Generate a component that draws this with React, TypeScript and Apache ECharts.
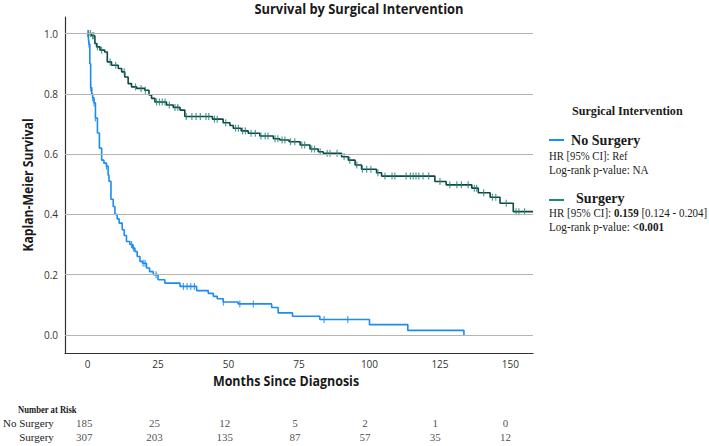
import React, { useEffect, useRef } from "react";
import * as echarts from "echarts";

// ---- Data ----
const noSurgeryCurve: [number, number][] = [
  [0, 1.0], [0.3, 0.985], [0.5, 0.965], [0.8, 0.9], [1.1, 0.82], [1.5, 0.8], [1.8, 0.787],
  [2.3, 0.77], [2.8, 0.72], [3.5, 0.67], [4.2, 0.62], [5, 0.58], [5.8, 0.57], [6.7, 0.56],
  [7.3, 0.53], [7.6, 0.51], [8.3, 0.45], [9.1, 0.426], [9.7, 0.4], [10.5, 0.385],
  [11.2, 0.371], [12.3, 0.349], [13, 0.33], [13.8, 0.31], [15, 0.3], [16, 0.288],
  [16.8, 0.277], [17.6, 0.26], [18.6, 0.244], [19.5, 0.238], [20.9, 0.222], [22, 0.21],
  [23.3, 0.2], [25, 0.183], [27.4, 0.172], [32.8, 0.161], [38.7, 0.147], [42.8, 0.138],
  [44.6, 0.128], [46, 0.12], [48.1, 0.109], [53.4, 0.103], [65.3, 0.091], [67.6, 0.073],
  [72.7, 0.062], [82.4, 0.051], [100, 0.034], [113.6, 0.015], [133.5, 0.0],
];
const noSurgeryCensor: number[] = [
  0.1, 0.5, 1.1, 1.8, 2.3, 2.8, 6.7, 15.6, 16.3, 19.7, 20.4, 24.3, 34, 35.3, 36.6, 37.9,
  48.2, 54, 58.8, 83.9, 92.3,
];

const surgeryCurve: [number, number][] = [
  [0, 1.0], [1.4, 0.993], [2.6, 0.967], [3.2, 0.956], [4.4, 0.945], [6.1, 0.939], [7, 0.906],
  [8.5, 0.895], [10.9, 0.884], [12.1, 0.873], [13.2, 0.856], [14.4, 0.834], [15.6, 0.823],
  [17.4, 0.818], [20.3, 0.812], [21.8, 0.796], [22.7, 0.785], [23.9, 0.773], [28, 0.763],
  [30.4, 0.755], [32.8, 0.746], [34.5, 0.725], [44.3, 0.716], [48.1, 0.704], [50.5, 0.695],
  [51.7, 0.686], [54.5, 0.677], [57, 0.669], [61.1, 0.66], [65.9, 0.651], [68.2, 0.647],
  [71.5, 0.641], [75.4, 0.63], [78.9, 0.617], [81.8, 0.608], [83.6, 0.603], [90.1, 0.591],
  [92.5, 0.58], [94.9, 0.564], [97.2, 0.55], [102.5, 0.538], [104.3, 0.527], [123.2, 0.509],
  [127.2, 0.498], [136.3, 0.487], [138.6, 0.472], [142.8, 0.457], [146.3, 0.437],
  [151, 0.409], [158, 0.409],
];
const surgeryCensor: number[] = [
  0.3, 1, 1.8, 2.2, 3.5, 5, 8, 10, 13, 17, 19, 20.5, 24.5, 25.5, 26.5, 27.5, 29, 31, 32,
  35, 37, 38.5, 40, 42, 43, 45, 46, 49, 52.5, 53.5, 55, 56, 58, 59.5, 61.5, 63, 64, 66.5,
  67.5, 69, 70, 72, 73.5, 76, 77, 79.5, 80.5, 82.5, 85, 86, 88.5, 91, 93, 95.5, 97.5,
  99, 100.5, 103, 105.5, 108, 109, 113, 114.5, 115.5, 116.5, 117.5, 119, 121, 125, 128.5,
  131, 132.6, 135, 137.2, 138, 140.5, 143.6, 144.8, 148.5, 152, 153, 155,
];

const xTicks = [0, 25, 50, 75, 100, 125, 150];
const yTicks = [0, 0.2, 0.4, 0.6, 0.8, 1.0];
const riskGroups = ["Surgery", "No Surgery"];
const riskTimes = [0, 25, 50, 75, 100, 125, 150];
const riskNoSurgery = [185, 25, 12, 5, 2, 1, 0];
const riskSurgery = [307, 203, 135, 87, 57, 35, 12];

const BLUE = "#1a8cf5";
const DARK = "#0c4a43";
const TEAL = "#23857a";

function survAt(curve: [number, number][], t: number): number {
  let s = curve[0][1];
  for (const [m, v] of curve) {
    if (m <= t) s = v;
    else break;
  }
  return s;
}

const SANS = "'Open Sans', 'DejaVu Sans', sans-serif";
const SERIF = "'Liberation Serif', 'DejaVu Serif', serif";

function txt(
  text: string,
  x: number,
  y: number,
  opts: { size: number; bold?: boolean; family?: string; align?: string; scaleX?: number; rotation?: number; fill?: string; rich?: any }
) {
  return {
    type: "text",
    x,
    y,
    rotation: opts.rotation || 0,
    scaleX: opts.scaleX ?? 1,
    silent: true,
    style: {
      text,
      fontSize: opts.size,
      fontWeight: opts.bold ? "bold" : "normal",
      fontFamily: opts.family || SERIF,
      fill: opts.fill || "#1a1a1a",
      align: opts.align || "left",
      textAlign: opts.align || "left",
      verticalAlign: "middle",
      textVerticalAlign: "middle",
      rich: opts.rich,
    },
  };
}

export default function App() {
  const ref = useRef<HTMLDivElement>(null);
  useEffect(() => {
    if (!ref.current) return;
    const chart = echarts.init(ref.current, null, { renderer: "svg" });
    const richBase = { fontFamily: SERIF, fontSize: 11.5, fill: "#1a1a1a" };
    const option: any = {
      animation: false,
      backgroundColor: "#ffffff",
      grid: [
        { left: 65, right: 176, top: 17, bottom: 93, containLabel: false },
        { left: 65, right: 176, top: 416, height: 28, containLabel: false },
      ],
      xAxis: [
        {
          type: "value",
          gridIndex: 0,
          min: -8,
          max: 158,
          axisLine: { show: true, onZero: false, lineStyle: { color: "#333", width: 1.2 } },
          axisTick: { show: false, customValues: xTicks },
          splitLine: { show: false },
          axisLabel: { customValues: xTicks, fontFamily: SANS, fontSize: 10, color: "#333", margin: 6 },
        },
        {
          type: "value",
          gridIndex: 1,
          min: -8,
          max: 158,
          show: false,
        },
      ],
      yAxis: [
        {
          type: "value",
          gridIndex: 0,
          min: -0.06,
          max: 1.055,
          axisLine: { show: true, onZero: false, lineStyle: { color: "#333", width: 1.2 } },
          axisTick: { show: false, customValues: yTicks },
          splitLine: { show: false },
          axisLabel: {
            customValues: yTicks,
            fontFamily: SANS,
            fontSize: 10,
            color: "#333",
            margin: 7,
            formatter: (v: number) => v.toFixed(1),
          },
        },
        {
          type: "category",
          gridIndex: 1,
          data: riskGroups,
          axisLine: { show: false },
          axisTick: { show: false },
          splitLine: { show: false },
          axisLabel: { interval: 0, fontFamily: SERIF, fontSize: 11, color: "#1a1a1a", margin: 13 },
        },
      ],
      series: [
        {
          type: "line",
          name: "grid",
          data: [[0, 0]],
          showSymbol: false,
          lineStyle: { opacity: 0 },
          silent: true,
          z: 1,
          markLine: {
            silent: true,
            symbol: "none",
            label: { show: false },
            lineStyle: { color: "#b5b5b5", width: 1, type: "solid" },
            data: yTicks.map((v) => ({ yAxis: v })),
          },
        },
        {
          type: "line",
          name: "No Surgery",
          step: "end",
          data: noSurgeryCurve,
          showSymbol: false,
          lineStyle: { color: BLUE, width: 1.6 },
          z: 3,
        },
        {
          type: "line",
          name: "Surgery",
          step: "end",
          data: surgeryCurve,
          showSymbol: false,
          lineStyle: { color: DARK, width: 1.6 },
          z: 3,
        },
        {
          type: "scatter",
          data: noSurgeryCensor.map((t) => [t, survAt(noSurgeryCurve, t)]),
          symbol: "rect",
          symbolSize: [1.2, 7],
          itemStyle: { color: BLUE },
          z: 4,
        },
        {
          type: "scatter",
          data: surgeryCensor.map((t) => [t, survAt(surgeryCurve, t)]),
          symbol: "rect",
          symbolSize: [1.2, 7],
          itemStyle: { color: TEAL },
          z: 4,
        },
        {
          type: "scatter",
          xAxisIndex: 1,
          yAxisIndex: 1,
          symbolSize: 1,
          itemStyle: { color: "rgba(0,0,0,0)" },
          data: [
            ...riskTimes.map((t, i) => [t, 1, riskNoSurgery[i]]),
            ...riskTimes.map((t, i) => [t, 0, riskSurgery[i]]),
          ],
          label: {
            show: true,
            position: "inside",
            offset: [-5, 0],
            fontFamily: SERIF,
            fontSize: 11,
            color: "#1a1a1a",
            formatter: (p: any) => String(p.value[2]),
          },
          z: 5,
        },
      ],
      graphic: [
        txt("Survival by Surgical Intervention", 359, 9, { size: 14, bold: true, family: SANS, align: "center", scaleX: 0.92 }),
        txt("Kaplan-Meier Survival", 28, 185, { size: 14, bold: true, family: SANS, align: "center", scaleX: 0.87, rotation: Math.PI / 2 }),
        txt("Months Since Diagnosis", 286, 381, { size: 14, bold: true, family: SANS, align: "center", scaleX: 0.89 }),
        txt("Number at Risk", 18, 409, { size: 10.5, bold: true, scaleX: 0.82 }),
        txt("Surgical Intervention", 572, 111, { size: 12.5, bold: true, scaleX: 0.97 }),
        { type: "line", shape: { x1: 549, y1: 140, x2: 564, y2: 140 }, style: { stroke: BLUE, lineWidth: 2 }, silent: true },
        txt("No Surgery", 571, 140, { size: 15, bold: true, scaleX: 0.94 }),
        txt("HR [95% CI]: Ref", 549, 156, { size: 11.5, scaleX: 0.93 }),
        txt("Log-rank p-value: NA", 549, 170, { size: 11.5, scaleX: 0.97 }),
        { type: "line", shape: { x1: 549, y1: 200, x2: 564, y2: 200 }, style: { stroke: TEAL, lineWidth: 2 }, silent: true },
        txt("Surgery", 576, 198, { size: 15, bold: true, scaleX: 0.94 }),
        txt("{n|HR [95% CI]: }{b|0.159}{n| [0.124 - 0.204]}", 549, 213, {
          size: 11.5,
          scaleX: 0.955,
          rich: { n: { ...richBase }, b: { ...richBase, fontWeight: "bold" } },
        }),
        txt("{n|Log-rank p-value: }{b|<0.001}", 549, 227, {
          size: 11.5,
          scaleX: 0.97,
          rich: { n: { ...richBase }, b: { ...richBase, fontWeight: "bold" } },
        }),
      ],
    };
    chart.setOption(option);
    return () => chart.dispose();
  }, []);
  return (
    <div
      ref={ref}
      style={{ position: "fixed", left: 0, top: 0, width: 709, height: 446, background: "#fff" }}
    />
  );
}
